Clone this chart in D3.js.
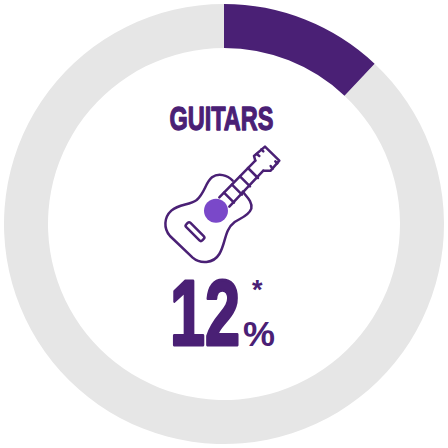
<!DOCTYPE html>
<html><head><meta charset="utf-8">
<script src="https://cdn.jsdelivr.net/npm/d3@7"></script>
<style>html,body{margin:0;padding:0;background:#fff}svg{display:block}</style>
</head><body><svg id="c" width="448" height="448"></svg>
<script>
const categories = ["GUITARS", "Other"];
const seriesValues = [12, 88];
const sliceColors = ["#4a2075", "#e6e6e6"];
const valueLabel = "12";

const purple = "#4a2075";
const svg = d3.select("#c");
const g = svg.append("g").attr("transform", "translate(224,224)");
const pie = d3.pie().sort(null)(seriesValues);
const arc = d3.arc().innerRadius(176).outerRadius(220);
const order = [1, 0];
g.selectAll("path.slice").data(order.map(i => pie[i])).join("path")
  .attr("class", "slice").attr("d", arc)
  .attr("fill", d => sliceColors[d.index]);

function label(t, x, y, size, width, sw) {
  const el = svg.append("text")
    .attr("font-family", "'Liberation Sans'").attr("font-weight", 700)
    .attr("font-size", size).attr("fill", purple)
    .attr("stroke", purple).attr("stroke-width", sw || 0)
    .attr("stroke-linejoin", "round").text(t);
  const natural = el.node().getComputedTextLength();
  const sx = width ? width / natural : 1;
  el.attr("transform", `translate(${x},${y}) scale(${sx},1)`);
  return el;
}
label(categories[0], 169.5, 129.5, 34, 104, 1.3);
label(valueLabel, 170, 345, 92, 70, 3);
label("%", 243, 346, 35, 32, 0);
label("*", 252, 299, 27, 0, 0);

// guitar icon, drawn in a 3x grid
const icon = svg.append("g").attr("transform", "translate(150,90) scale(0.3333)")
  .attr("fill", "none").attr("stroke", purple).attr("stroke-width", 7.5)
  .attr("stroke-linejoin", "round").attr("stroke-linecap", "round");
icon.append("path").attr("d",
  "M248,272 C232,255 205,248 186,262 C166,278 165,308 140,330 C118,346 88,342 64,362 C42,382 40,415 60,438 L128,503 C150,522 190,522 208,492 C228,460 222,420 254,396 C272,384 296,378 304,356 C308,336 292,322 278,305");
icon.append("path").attr("d", "M208,322 L316,212 M238,350 L340,242");
icon.append("path").attr("d",
  "M222,308 L252,338 M246,284 L276,314 M270,259 L300,289 M294,234 L324,264");
icon.append("path").attr("d", "M316,212 L312,198 L345,170 L388,212 L362,242 L340,242");
icon.append("path").attr("d", "M320,192 L328,198 M334,178 L340,184 M368,236 L362,228 M382,220 L376,214");
icon.append("rect").attr("x", -34).attr("y", -9).attr("width", 68).attr("height", 18).attr("rx", 6)
  .attr("transform", "translate(135,425) rotate(45)");
icon.append("circle").attr("cx", 198).attr("cy", 362).attr("r", 36)
  .attr("fill", "#7a48c9").attr("stroke", "none");
</script></body></html>
